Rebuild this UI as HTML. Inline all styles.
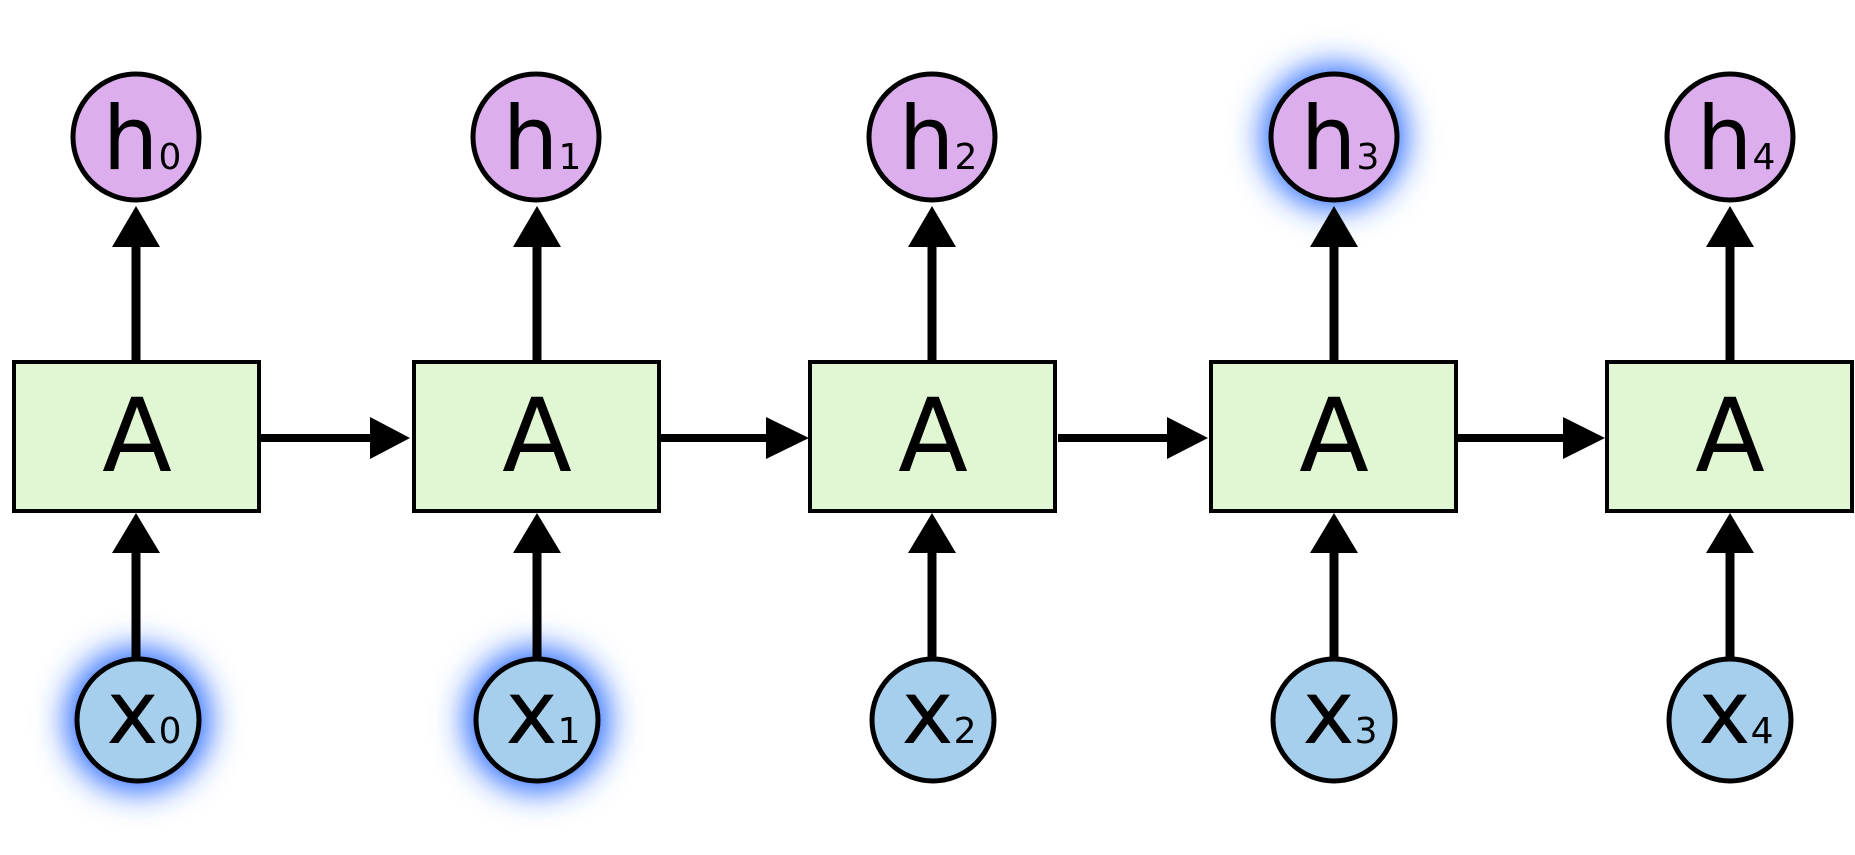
<!DOCTYPE html>
<html><head><meta charset="utf-8"><style>html,body{margin:0;padding:0;background:#fff}svg{display:block}</style></head>
<body>
<svg width="1855" height="855" viewBox="0 0 1855 855" xmlns="http://www.w3.org/2000/svg" font-family="DejaVu Sans, sans-serif">
<defs>
<filter id="g" x="-100%" y="-100%" width="300%" height="300%"><feGaussianBlur stdDeviation="16"/></filter>
</defs>
<!-- glows -->
<circle cx="138" cy="720" r="72" fill="#2a6cff" filter="url(#g)"/>
<circle cx="537" cy="720" r="72" fill="#2a6cff" filter="url(#g)"/>
<circle cx="1334" cy="137" r="72" fill="#2a6cff" filter="url(#g)"/>
<g stroke="#000" stroke-width="9" fill="none">
<line x1="136" y1="361" x2="136" y2="240"/><line x1="537" y1="361" x2="537" y2="240"/><line x1="932" y1="361" x2="932" y2="240"/><line x1="1334" y1="361" x2="1334" y2="240"/><line x1="1730" y1="361" x2="1730" y2="240"/>
<line x1="136" y1="659" x2="136" y2="545"/><line x1="537" y1="659" x2="537" y2="545"/><line x1="932" y1="659" x2="932" y2="545"/><line x1="1334" y1="659" x2="1334" y2="545"/><line x1="1730" y1="659" x2="1730" y2="545"/>
</g>
<g stroke="#000" stroke-width="8">
<line x1="260" y1="438" x2="375" y2="438"/><line x1="659" y1="438" x2="771" y2="438"/><line x1="1058" y1="438" x2="1172" y2="438"/><line x1="1457" y1="438" x2="1568" y2="438"/>
</g>
<g fill="#000">
<polygon points="136,206 112,247 160,247"/><polygon points="537,206 513,247 561,247"/><polygon points="932,206 908,247 956,247"/><polygon points="1334,206 1310,247 1358,247"/><polygon points="1730,206 1706,247 1754,247"/>
<polygon points="136,513 112,553 160,553"/><polygon points="537,513 513,553 561,553"/><polygon points="932,513 908,553 956,553"/><polygon points="1334,513 1310,553 1358,553"/><polygon points="1730,513 1706,553 1754,553"/>
<polygon points="410,438 370,417 370,459"/><polygon points="809,438 766,417 766,459"/><polygon points="1208,438 1167,417 1167,459"/><polygon points="1605,438 1563,417 1563,459"/>
</g>
<g fill="#e1f7d4" stroke="#000" stroke-width="4">
<rect x="14" y="362" width="245" height="149"/><rect x="414" y="362" width="245" height="149"/><rect x="810" y="362" width="245" height="149"/><rect x="1211" y="362" width="245" height="149"/><rect x="1607" y="362" width="245" height="149"/>
</g>
<g font-size="102" text-anchor="middle" fill="#000">
<text x="137" y="471">A</text><text x="537" y="471">A</text><text x="933" y="471">A</text><text x="1334" y="471">A</text><text x="1730" y="471">A</text>
</g>
<g fill="#dcaeee" stroke="#000" stroke-width="5">
<circle cx="136" cy="137" r="63"/><circle cx="536" cy="137" r="63"/><circle cx="932" cy="137" r="63"/><circle cx="1334" cy="137" r="63"/><circle cx="1730" cy="137" r="63"/>
</g>
<g fill="#a6cfee" stroke="#000" stroke-width="5">
<circle cx="138" cy="720" r="61"/><circle cx="537" cy="720" r="61"/><circle cx="933" cy="720" r="61"/><circle cx="1334" cy="720" r="61"/><circle cx="1730" cy="720" r="61"/>
</g>
<g font-size="88" text-anchor="middle" fill="#000">
<text x="142" y="169">h<tspan font-size="36">0</tspan></text>
<text x="542" y="169">h<tspan font-size="36">1</tspan></text>
<text x="938" y="169">h<tspan font-size="36">2</tspan></text>
<text x="1340" y="169">h<tspan font-size="36">3</tspan></text>
<text x="1736" y="169">h<tspan font-size="36">4</tspan></text>
<text x="144" y="743">x<tspan font-size="36">0</tspan></text>
<text x="543" y="743">x<tspan font-size="36">1</tspan></text>
<text x="939" y="743">x<tspan font-size="36">2</tspan></text>
<text x="1340" y="743">x<tspan font-size="36">3</tspan></text>
<text x="1736" y="743">x<tspan font-size="36">4</tspan></text>
</g>
</svg>
</body></html>
